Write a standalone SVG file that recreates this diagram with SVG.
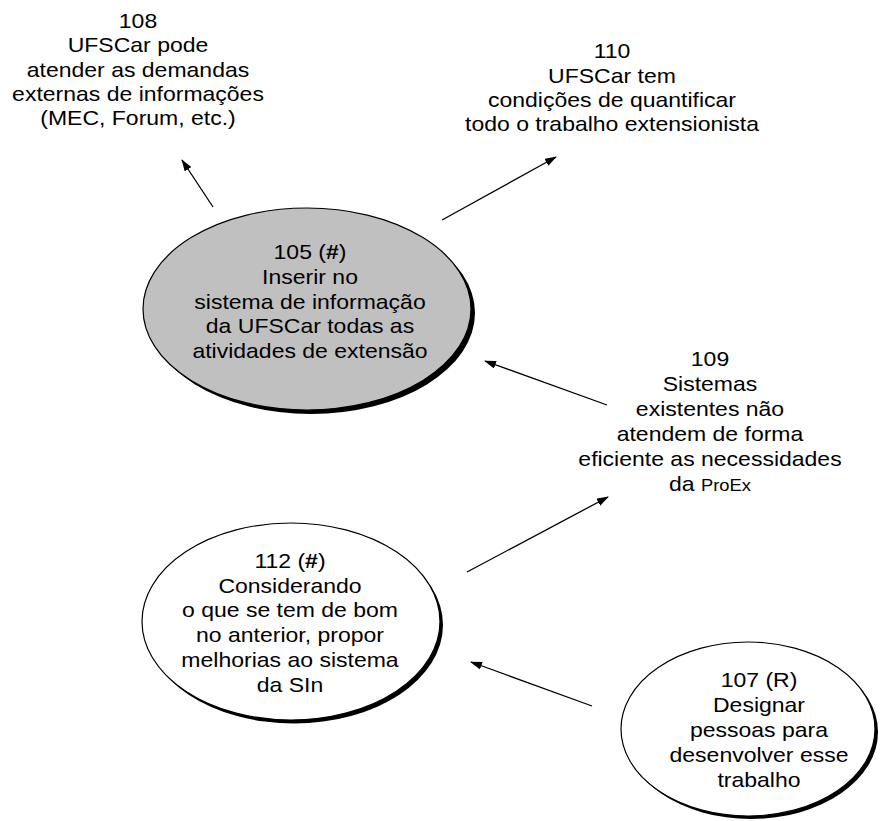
<svg xmlns="http://www.w3.org/2000/svg" width="880" height="821" viewBox="0 0 880 821">
<style>
  text { font-family: "Liberation Sans", Arial, sans-serif; font-size: 20px; fill: #000; text-anchor: middle; }
  .small { font-size: 16px; }
  .edge { stroke: #000; stroke-width: 1.3; fill: none; marker-end: url(#arr); }
  .shadow { fill: #000; }
  .node { stroke: #000; stroke-width: 1.2; }
</style>
<defs>
  <marker id="arr" viewBox="0 0 12 8" refX="11" refY="4" markerWidth="12" markerHeight="8" markerUnits="userSpaceOnUse" orient="auto">
    <path d="M0,0 L12,4 L0,8 Z" fill="#000"/>
  </marker>
</defs>
<rect width="880" height="821" fill="#fff"/>

<g id="connectors">
  <line class="edge" x1="213" y1="207" x2="182" y2="160"/>
  <line class="edge" x1="442" y1="220" x2="556" y2="157"/>
  <line class="edge" x1="607" y1="405" x2="485" y2="361"/>
  <line class="edge" x1="467" y1="572" x2="608" y2="497"/>
  <line class="edge" x1="592" y1="706" x2="471" y2="662"/>
</g>

<g id="n108">
  <g transform="translate(138 0) scale(1.15 1)">
    <text x="0" y="28">108</text>
    <text x="0" y="52.5">UFSCar pode</text>
    <text x="0" y="77">atender as demandas</text>
    <text x="0" y="101">externas de informações</text>
    <text x="0" y="125.5">(MEC, Forum, etc.)</text>
  </g>
</g>

<g id="n110">
  <g transform="translate(612 0) scale(1.15 1)">
    <text x="0" y="58.5">110</text>
    <text x="0" y="83">UFSCar tem</text>
    <text x="0" y="107">condições de quantificar</text>
    <text x="0" y="131.5">todo o trabalho extensionista</text>
  </g>
</g>

<g id="n105">
  <ellipse class="shadow" cx="311" cy="313" rx="164" ry="101"/>
  <ellipse class="node" cx="307" cy="309" rx="164" ry="101" fill="#c0c0c0"/>
  <g transform="translate(310 0) scale(1.15 1)">
    <text x="0" y="259">105 (<tspan font-weight="bold">#</tspan>)</text>
    <text x="0" y="284">Inserir no</text>
    <text x="0" y="309">sistema de informação</text>
    <text x="0" y="333.5">da UFSCar todas as</text>
    <text x="0" y="358">atividades de extensão</text>
  </g>
</g>

<g id="n109">
  <g transform="translate(710 0) scale(1.15 1)">
    <text x="0" y="366">109</text>
    <text x="0" y="391">Sistemas</text>
    <text x="0" y="416">existentes não</text>
    <text x="0" y="441">atendem de forma</text>
    <text x="0" y="466">eficiente as necessidades</text>
    <text x="0" y="491">da <tspan class="small">ProEx</tspan></text>
  </g>
</g>

<g id="n112">
  <ellipse class="shadow" cx="294" cy="625" rx="149" ry="98.5"/>
  <ellipse class="node" cx="291" cy="621.5" rx="149" ry="98.5" fill="#fff"/>
  <g transform="translate(290 0) scale(1.15 1)">
    <text x="0" y="568">112 (<tspan font-weight="bold">#</tspan>)</text>
    <text x="0" y="593">Considerando</text>
    <text x="0" y="617">o que se tem de bom</text>
    <text x="0" y="642">no anterior, propor</text>
    <text x="0" y="667">melhorias ao sistema</text>
    <text x="0" y="692">da SIn</text>
  </g>
</g>

<g id="n107">
  <ellipse class="shadow" cx="751" cy="732" rx="127" ry="87"/>
  <ellipse class="node" cx="748" cy="729" rx="127" ry="87" fill="#fff"/>
  <g transform="translate(759 0) scale(1.15 1)">
    <text x="0" y="687">107 (R)</text>
    <text x="0" y="712">Designar</text>
    <text x="0" y="737">pessoas para</text>
    <text x="0" y="762">desenvolver esse</text>
    <text x="0" y="787">trabalho</text>
  </g>
</g>
</svg>
